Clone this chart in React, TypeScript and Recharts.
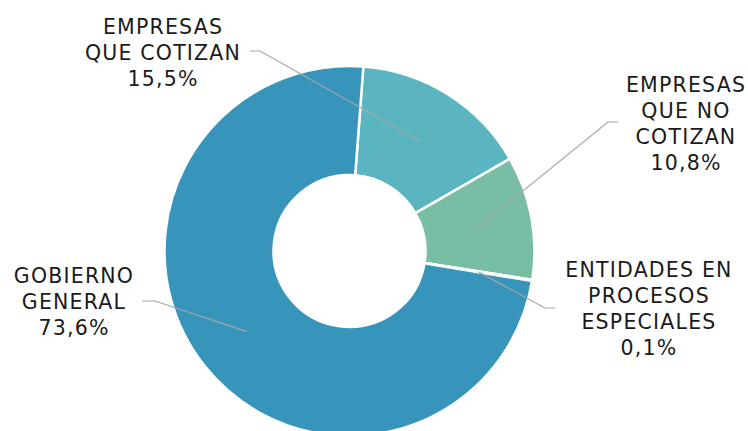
import React from 'react';
import { PieChart, Pie, Cell } from 'recharts';

const names = ['EMPRESAS QUE COTIZAN', 'EMPRESAS QUE NO COTIZAN', 'ENTIDADES EN PROCESOS ESPECIALES', 'GOBIERNO GENERAL'];
const nameLines = [
  ['EMPRESAS', 'QUE COTIZAN'],
  ['EMPRESAS', 'QUE NO', 'COTIZAN'],
  ['ENTIDADES EN', 'PROCESOS', 'ESPECIALES'],
  ['GOBIERNO', 'GENERAL'],
];
const values = [15.5, 10.8, 0.1, 73.6];
const colors = ['#5AB5C0', '#77BEA5', '#3795BC', '#3795BC'];

const data = names.map((n, i) => ({ name: n, value: values[i] }));

// label layout: elbow point, end x of horizontal segment, text center x, first baseline
const labelLayout = [
  { ex: 260, ey: 51, hx: 250, tx: 163, ty: 34 },
  { ex: 608, ey: 122, hx: 618, tx: 686, ty: 92 },
  { ex: 545, ey: 308, hx: 555, tx: 649, ty: 277 },
  { ex: 155, ey: 301, hx: 142, tx: 74, ty: 283 },
];

const RAD = Math.PI / 180;

const renderLabel = (props: any) => {
  const { cx, cy, midAngle, innerRadius, outerRadius, index, value } = props;
  const r = (innerRadius + outerRadius) / 2;
  const sx = cx + r * Math.cos(-midAngle * RAD);
  const sy = cy + r * Math.sin(-midAngle * RAD);
  const L = labelLayout[index];
  const lines = [...nameLines[index], `${value.toFixed(1).replace('.', ',')}%`];
  return (
    <g key={`lbl-${index}`}>
      <polyline
        points={`${sx},${sy} ${L.ex},${L.ey} ${L.hx},${L.ey}`}
        fill="none"
        stroke="#A6A6A6"
        strokeWidth={1.2}
      />
      <text
        textAnchor="middle"
        fontFamily="'DejaVu Sans', sans-serif"
        fontSize={20.5}
        fill="#1a1a1a"
        style={{ letterSpacing: '1.2px' }}
      >
        {lines.map((t, i) => (
          <tspan key={i} x={L.tx} y={L.ty + i * 26}>
            {t}
          </tspan>
        ))}
      </text>
    </g>
  );
};

export default function App() {
  return (
    <div style={{ position: 'absolute', left: 0, top: 0, background: '#fff' }}>
      <PieChart width={748} height={431} margin={{ top: 0, right: 0, bottom: 0, left: 0 }}>
        <Pie
          data={data}
          dataKey="value"
          nameKey="name"
          cx={349.5}
          cy={251}
          innerRadius={76}
          outerRadius={185}
          startAngle={85.7}
          endAngle={-274.3}
          stroke="#ffffff"
          strokeWidth={2.5}
          isAnimationActive={false}
          labelLine={false}
          label={renderLabel}
        >
          {data.map((d, i) => (
            <Cell key={d.name} fill={colors[i]} />
          ))}
        </Pie>
      </PieChart>
    </div>
  );
}
